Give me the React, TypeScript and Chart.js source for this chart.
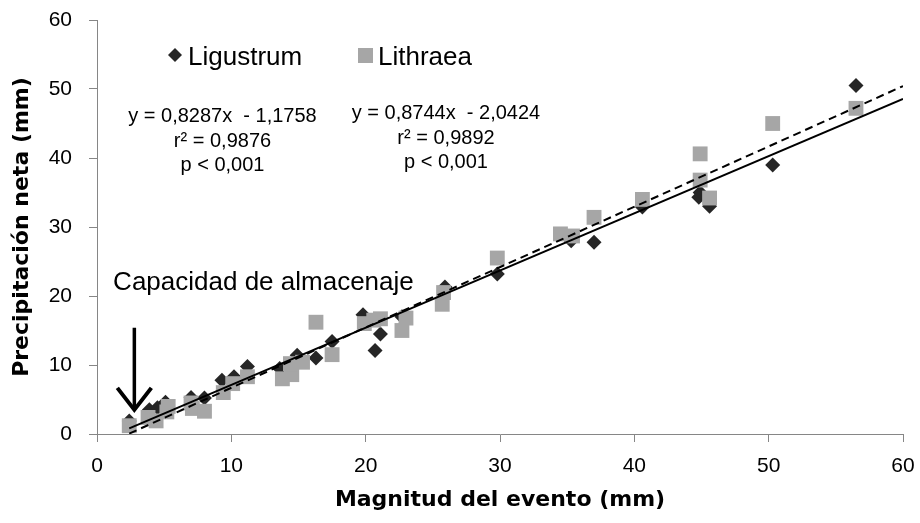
import React, { useEffect, useRef } from "react";
import { Chart, registerables } from "chart.js";

Chart.register(...registerables);

// ---- Data ----
const ligustrumX = [2.4, 3.9, 4.5, 5.1, 7.0, 8.0, 9.3, 10.2, 11.2, 13.6, 14.9, 16.3, 17.5, 19.8, 20.7, 21.1, 22.7, 25.9, 29.8, 35.3, 37.0, 40.6, 44.8, 44.9, 45.6, 50.3, 56.5];
const ligustrumY = [1.9, 3.5, 3.8, 4.6, 5.3, 5.2, 7.8, 8.3, 9.8, 9.5, 11.4, 11.0, 13.4, 17.3, 12.1, 14.5, 17.0, 21.3, 23.2, 28.0, 27.8, 32.9, 34.3, 35.0, 33.0, 39.0, 50.5];

const lithraeaX = [2.4, 3.8, 4.4, 5.2, 5.3, 7.0, 7.1, 8.0, 9.4, 10.1, 11.2, 13.8, 14.5, 14.4, 15.3, 16.3, 17.5, 19.9, 20.6, 21.1, 22.7, 23.0, 25.7, 25.8, 29.8, 34.5, 35.4, 37.0, 40.6, 44.9, 44.9, 45.6, 50.3, 56.5];
const lithraeaY = [1.2, 2.4, 1.9, 3.2, 4.0, 4.5, 3.7, 3.3, 6.0, 7.3, 8.3, 8.0, 8.6, 10.2, 10.4, 16.2, 11.5, 16.0, 16.5, 16.7, 15.0, 16.8, 18.8, 20.5, 25.5, 29.0, 28.7, 31.4, 34.0, 40.6, 36.8, 34.2, 45.0, 47.2];

const trendX = [2.4, 60];
const ligustrumFit = { slope: 0.8287, intercept: -1.1758 };
const lithraeaFit = { slope: 0.8744, intercept: -2.0424 };

const seriesNames = ["Ligustrum", "Lithraea"];
const ligustrumStats = ["y = 0,8287x  - 1,1758", "r² = 0,9876", "p < 0,001"];
const lithraeaStats = ["y = 0,8744x  - 2,0424", "r² = 0,9892", "p < 0,001"];
const annotationText = "Capacidad de almacenaje";
const arrowX = 2.78;
const arrowFromY = 15.4;
const arrowToY = 3.5;
const annotationPos = { x: 1.2, y: 20.9 };

const xTitle = "Magnitud del evento (mm)";
const yTitle = "Precipitación neta (mm)";
const axisMin = 0;
const axisMax = 60;
const axisStep = 10;

const DARK = "#262626";
const GRAY = "#a6a6a6";
const AXIS = "#868686";
const SANS = "'Liberation Sans', Arial, sans-serif";

const toPoints = (xs: number[], ys: number[]) => xs.map((x, i) => ({ x, y: ys[i] }));
const fitPoints = (fit: { slope: number; intercept: number }) =>
  trendX.map((x) => ({ x, y: fit.slope * x + fit.intercept }));

const overlayPlugin = {
  id: "overlay",
  afterDraw(chart: any) {
    const ctx = chart.ctx as CanvasRenderingContext2D;
    const xs = chart.scales.x;
    const ys = chart.scales.y;
    ctx.save();

    // Legend
    ctx.fillStyle = DARK;
    ctx.beginPath();
    ctx.moveTo(175, 48);
    ctx.lineTo(182, 55);
    ctx.lineTo(175, 62);
    ctx.lineTo(168, 55);
    ctx.closePath();
    ctx.fill();
    ctx.font = `26px ${SANS}`;
    ctx.textBaseline = "alphabetic";
    ctx.textAlign = "left";
    ctx.fillStyle = "#000";
    ctx.fillText(seriesNames[0], 188, 65);
    ctx.fillStyle = GRAY;
    ctx.fillRect(358, 48, 15, 15);
    ctx.fillStyle = "#000";
    ctx.fillText(seriesNames[1], 378, 65);

    // Equations
    ctx.font = `20px ${SANS}`;
    ctx.textAlign = "center";
    const leftBase = [122, 147, 171];
    const rightBase = [119, 144, 168];
    ligustrumStats.forEach((t, i) => ctx.fillText(t, 222.5, leftBase[i]));
    lithraeaStats.forEach((t, i) => ctx.fillText(t, 446, rightBase[i]));

    // Annotation text
    ctx.font = `26px ${SANS}`;
    ctx.textAlign = "left";
    ctx.fillText(annotationText, xs.getPixelForValue(annotationPos.x), ys.getPixelForValue(annotationPos.y));

    // Arrow
    const ax = xs.getPixelForValue(arrowX);
    const ay0 = ys.getPixelForValue(arrowFromY);
    const ay1 = ys.getPixelForValue(arrowToY);
    ctx.strokeStyle = "#000";
    ctx.lineWidth = 3.5;
    ctx.beginPath();
    ctx.moveTo(ax, ay0);
    ctx.lineTo(ax, ay1 - 2);
    ctx.stroke();
    ctx.lineWidth = 4;
    ctx.lineJoin = "miter";
    ctx.beginPath();
    ctx.moveTo(ax - 17, ay1 - 22);
    ctx.lineTo(ax, ay1);
    ctx.lineTo(ax + 17, ay1 - 22);
    ctx.stroke();

    ctx.restore();
  },
};

export default function App() {
  const canvasRef = useRef<HTMLCanvasElement | null>(null);

  useEffect(() => {
    document.body.style.margin = "0";
    const canvas = canvasRef.current;
    if (!canvas) return;
    const tickFont = { family: SANS, size: 21 };
    const titleFont = { family: "'DejaVu Sans', sans-serif", size: 22, weight: "bold" as const };
    const chart = new Chart(canvas, {
      type: "scatter",
      data: {
        datasets: [
          {
            label: "Ligustrum fit",
            data: fitPoints(ligustrumFit),
            showLine: true,
            borderColor: "#000",
            borderWidth: 2,
            pointRadius: 0,
            order: 0,
          },
          {
            label: "Lithraea fit",
            data: fitPoints(lithraeaFit),
            showLine: true,
            borderColor: "#000",
            borderWidth: 2,
            borderDash: [8, 5],
            pointRadius: 0,
            order: 1,
          },
          {
            label: seriesNames[1],
            data: toPoints(lithraeaX, lithraeaY),
            pointStyle: "rect",
            pointRadius: 10.5,
            pointBackgroundColor: GRAY,
            pointBorderWidth: 0,
            pointBorderColor: GRAY,
            order: 2,
          },
          {
            label: seriesNames[0],
            data: toPoints(ligustrumX, ligustrumY),
            pointStyle: "rectRot",
            pointRadius: 7.5,
            pointBackgroundColor: DARK,
            pointBorderWidth: 0,
            pointBorderColor: DARK,
            order: 3,
          },
        ],
      },
      options: {
        responsive: false,
        animation: false,
        layout: { padding: { top: 20, right: 17, left: 0, bottom: 0 } },
        plugins: { legend: { display: false }, tooltip: { enabled: false } },
        scales: {
          x: {
            type: "linear",
            min: axisMin,
            max: axisMax,
            ticks: { stepSize: axisStep, font: tickFont, color: "#000", padding: 12, maxRotation: 0 },
            grid: { drawOnChartArea: false, drawTicks: true, tickLength: 8, color: AXIS },
            border: { color: AXIS, width: 1 },
            title: { display: true, text: xTitle, font: titleFont, color: "#000", padding: { top: 0, bottom: 10 } },
            afterFit: (s: any) => {
              s.height = 89;
              s.paddingLeft = 0;
              s.paddingRight = 0;
            },
          },
          y: {
            type: "linear",
            min: axisMin,
            max: axisMax,
            ticks: { stepSize: axisStep, font: tickFont, color: "#000", padding: 17 },
            grid: { drawOnChartArea: false, drawTicks: true, tickLength: 8, color: AXIS },
            border: { color: AXIS, width: 1 },
            title: { display: true, text: yTitle, font: titleFont, color: "#000", padding: { top: 9, bottom: 0 } },
            afterFit: (s: any) => {
              s.width = 97;
              s.paddingTop = 0;
              s.paddingBottom = 0;
            },
          },
        },
      },
      plugins: [overlayPlugin],
    });
    return () => chart.destroy();
  }, []);

  return (
    <div style={{ width: 920, height: 523, background: "#fff" }}>
      <canvas ref={canvasRef} width={920} height={523} />
    </div>
  );
}
